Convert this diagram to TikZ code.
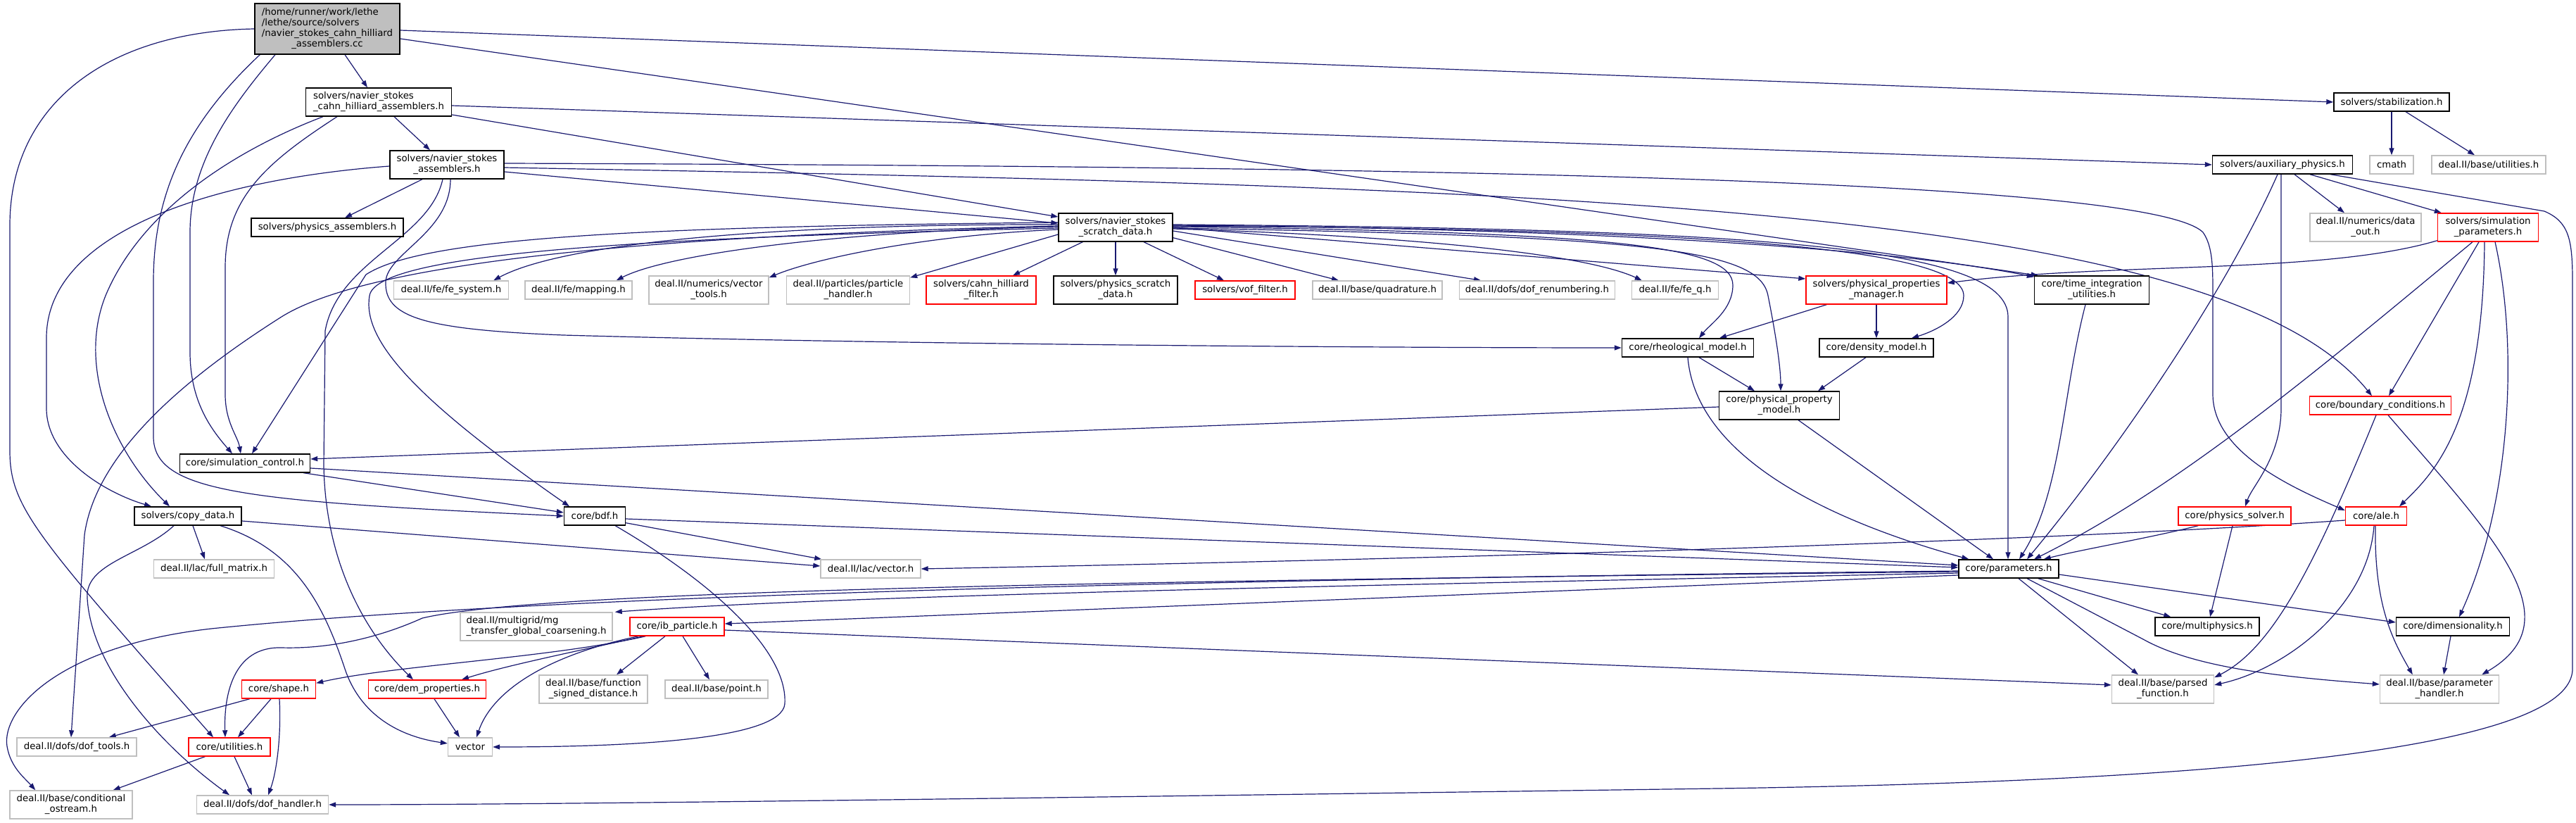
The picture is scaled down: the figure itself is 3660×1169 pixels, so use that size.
\documentclass[tikz,border=0pt]{standalone}
\usepackage{fontspec}
\setmainfont{DejaVu Sans}
\usetikzlibrary{arrows.meta,calc}
\definecolor{edgec}{HTML}{191970}
\definecolor{grayb}{HTML}{BFBFBF}
\newcommand{\fsz}{\fontsize{13.3}{15}\selectfont}
\newcommand{\mlab}[2]{\begin{tabular}{@{}l@{}}#1\\\multicolumn{1}{@{}c@{}}{#2}\end{tabular}}
\pgfdeclarelayer{bg}
\pgfsetlayers{bg,main}
\tikzset{
 box/.style={rectangle, fill=white, line width=1.4pt, inner sep=0pt, font=\fsz, text=black, align=center},
 nb/.style={box, draw=black},
 ng/.style={box, draw=grayb},
 nr/.style={box, draw=red},
 nroot/.style={box, draw=black, fill=grayb},
 sz/.style 2 args={minimum width=#1, minimum height=#2},
 lnk/.style={draw=edgec, line width=1.2pt, -{Triangle[length=10pt,width=7pt]}},
}
\begin{document}
\begin{tikzpicture}[x=1pt,y=-1pt]
\useasboundingbox (0,0) rectangle (3660,1169);
% nodes
\node[nroot,sz={206}{72}] (root) at (465,41) {\begin{tabular}{@{}l@{}}/home/runner/work/lethe\\/lethe/source/solvers\\/navier\_stokes\_cahn\_hilliard\\\multicolumn{1}{@{}c@{}}{\_assemblers.cc}\end{tabular}};
\node[nb,sz={207}{40}] (nsch) at (538,145) {\mlab{solvers/navier\_stokes}{\_cahn\_hilliard\_assemblers.h}};
\node[nb,sz={162}{40}] (nsasm) at (635,234) {\mlab{solvers/navier\_stokes}{\_assemblers.h}};
\node[nb,sz={216}{26}] (physasm) at (465,323) {solvers/physics\_assemblers.h};
\node[nb,sz={162}{40}] (scratch) at (1585,323) {\mlab{solvers/navier\_stokes}{\_scratch\_data.h}};
\node[nb,sz={164}{26}] (stab) at (3398,145) {solvers/stabilization.h};
\node[ng,sz={62}{26}] (cmath) at (3398,234) {cmath};
\node[ng,sz={162}{26}] (dutil) at (3536,234) {deal.II/base/utilities.h};
\node[nb,sz={199}{26}] (aux) at (3243,234) {solvers/auxiliary\_physics.h};
\node[ng,sz={158}{40}] (dataout) at (3361,323) {\mlab{deal.II/numerics/data}{\_out.h}};
\node[nr,sz={143}{40}] (simparam) at (3535,323) {\mlab{solvers/simulation}{\_parameters.h}};
\node[ng,sz={163}{26}] (fesys) at (641,412) {deal.II/fe/fe\_system.h};
\node[ng,sz={152}{26}] (mapping) at (822,412) {deal.II/fe/mapping.h};
\node[ng,sz={170}{40}] (vtools) at (1007,412) {\mlab{deal.II/numerics/vector}{\_tools.h}};
\node[ng,sz={175}{40}] (phandler) at (1205,412) {\mlab{deal.II/particles/particle}{\_handler.h}};
\node[nr,sz={156}{40}] (chfilter) at (1394,412) {\mlab{solvers/cahn\_hilliard}{\_filter.h}};
\node[nb,sz={176}{40}] (physscratch) at (1585,412) {\mlab{solvers/physics\_scratch}{\_data.h}};
\node[nr,sz={142}{26}] (voffilter) at (1769,412) {solvers/vof\_filter.h};
\node[ng,sz={184}{26}] (quad) at (1957,412) {deal.II/base/quadrature.h};
\node[ng,sz={221}{26}] (dofren) at (2184,412) {deal.II/dofs/dof\_renumbering.h};
\node[ng,sz={123}{26}] (feq) at (2380,412) {deal.II/fe/fe\_q.h};
\node[nr,sz={200}{40}] (ppm) at (2666,412) {\mlab{solvers/physical\_properties}{\_manager.h}};
\node[nb,sz={163}{40}] (timeint) at (2972,412) {\mlab{core/time\_integration}{\_utilities.h}};
\node[nb,sz={187}{26}] (rheo) at (2398,494) {core/rheological\_model.h};
\node[nb,sz={162}{26}] (density) at (2666,494) {core/density\_model.h};
\node[nb,sz={171}{40}] (ppmodel) at (2528,576) {\mlab{core/physical\_property}{\_model.h}};
\node[nr,sz={201}{26}] (bc) at (3382,576) {core/boundary\_conditions.h};
\node[nb,sz={185}{26}] (simctrl) at (348,658) {core/simulation\_control.h};
\node[nb,sz={152}{26}] (copydata) at (267,733) {solvers/copy\_data.h};
\node[nb,sz={87}{26}] (bdf) at (845,733) {core/bdf.h};
\node[nr,sz={160}{26}] (physsolver) at (3175,733) {core/physics\_solver.h};
\node[nr,sz={87}{26}] (ale) at (3376,733) {core/ale.h};
\node[ng,sz={171}{26}] (fullmatrix) at (304,808) {deal.II/lac/full\_matrix.h};
\node[ng,sz={142}{26}] (lacvector) at (1237,808) {deal.II/lac/vector.h};
\node[nb,sz={142}{26}] (params) at (2854,808) {core/parameters.h};
\node[ng,sz={216}{40}] (mg) at (762,890) {\mlab{deal.II/multigrid/mg}{\_transfer\_global\_coarsening.h}};
\node[nr,sz={134}{26}] (ib) at (962,890) {core/ib\_particle.h};
\node[nb,sz={148}{26}] (multiphys) at (3136,890) {core/multiphysics.h};
\node[nb,sz={161}{26}] (dimens) at (3485,890) {core/dimensionality.h};
\node[nr,sz={105}{26}] (shape) at (396,979) {core/shape.h};
\node[nr,sz={167}{26}] (dem) at (607,979) {core/dem\_properties.h};
\node[ng,sz={154}{40}] (fsd) at (843,979) {\mlab{deal.II/base/function}{\_signed\_distance.h}};
\node[ng,sz={146}{26}] (point) at (1018,979) {deal.II/base/point.h};
\node[ng,sz={145}{40}] (parsedf) at (3073,979) {\mlab{deal.II/base/parsed}{\_function.h}};
\node[ng,sz={169}{40}] (paramh) at (3466,979) {\mlab{deal.II/base/parameter}{\_handler.h}};
\node[ng,sz={170}{26}] (doftools) at (109,1061) {deal.II/dofs/dof\_tools.h};
\node[nr,sz={116}{26}] (utils) at (326,1061) {core/utilities.h};
\node[ng,sz={63}{26}] (vector) at (668,1061) {vector};
\node[ng,sz={174}{40}] (condos) at (101,1143) {\mlab{deal.II/base/conditional}{\_ostream.h}};
\node[ng,sz={187}{26}] (dofh) at (373,1143) {deal.II/dofs/dof\_handler.h};
\begin{pgfonlayer}{bg}
\fill[white] (0,0) rectangle (3660,1169);
% root
\draw[lnk] ($(root.south)+(25,0)$) -- ($(nsch.north)+(-16,0)$);
\draw[lnk] ($(root.east)+(0,2)$) -- (stab.west);
\draw[lnk] ($(root.east)+(0,14)$) -- ($(timeint.north west)+(6,0)$);
\draw[lnk] ($(root.south)+(-74,0)$) .. controls (330,150) and (270,230) .. (270,330) -- (270,500) .. controls (270,570) and (300,610) .. ($(simctrl.north)+(-18,0)$);
\draw[lnk] ($(root.south west)+(8,0)$) .. controls (260,180) and (218,280) .. (218,400) -- (218,620) .. controls (218,700) and (350,712) .. (bdf.west);
\draw[lnk] (root.west) .. controls (150,45) and (14,150) .. (14,320) -- (14,640) .. controls (14,720) and (50,760) .. ($(utils.north)+(-23,0)$);
% nsch
\draw[lnk] ($(nsch.south)+(22,0)$) -- ($(nsasm.north)+(-24,0)$);
\draw[lnk] ($(nsch.east)+(0,5)$) -- (aux.west);
\draw[lnk] ($(nsch.east)+(0,18)$) -- ($(scratch.west)+(0,-15)$);
\draw[lnk] ($(nsch.south)+(-79,0)$) .. controls (330,215) and (200,300) .. (150,420) .. controls (110,520) and (160,640) .. ($(copydata.north)+(-26,0)$);
\draw[lnk] ($(nsch.south)+(-59,0)$) .. controls (380,230) and (320,280) .. (320,380) -- (320,560) .. controls (320,600) and (338,620) .. ($(simctrl.north)+(-6,0)$);
% nsasm
\draw[lnk] ($(nsasm.south)+(-35,0)$) -- ($(physasm.north)+(25,0)$);
\draw[lnk] ($(nsasm.east)+(0,10)$) -- ($(scratch.west)+(0,-6)$);
\draw[lnk] ($(nsasm.east)+(0,-2)$) .. controls (1900,236) and (3050,250) .. (3130,330) .. controls (3144,350) and (3144,380) .. (3144,420) -- (3144,560) .. controls (3144,640) and (3250,690) .. ($(ale.west)+(0,-8)$);
\draw[lnk] ($(nsasm.east)+(0,4)$) .. controls (2200,265) and (3150,290) .. ($(bc.north)+(-12,0)$);
\draw[lnk] ($(nsasm.south)+(-6,0)$) .. controls (610,340) and (480,370) .. (462,470) -- (460,660) .. controls (462,800) and (520,900) .. ($(dem.north)+(-20,0)$);
\draw[lnk] ($(nsasm.south)+(5,0)$) .. controls (640,330) and (550,360) .. (548,400) .. controls (546,450) and (600,468) .. (800,476) .. controls (1300,490) and (2000,494) .. (rheo.west);
\draw[lnk] ($(nsasm.west)+(0,2)$) .. controls (300,255) and (66,330) .. (66,480) -- (66,580) .. controls (66,650) and (150,700) .. ($(copydata.north)+(-52,0)$);
% scratch left
\draw[lnk] ($(scratch.west)+(0,-4)$) .. controls (1100,318) and (800,345) .. ($(fesys.north east)+(-22,0)$);
\draw[lnk] ($(scratch.west)+(0,-1)$) .. controls (1200,328) and (950,360) .. ($(mapping.north east)+(-23,0)$);
\draw[lnk] ($(scratch.west)+(0,3)$) .. controls (1300,335) and (1150,370) .. ($(vtools.north east)+(0,3)$);
\draw[lnk] ($(scratch.west)+(0,10)$) -- ($(phandler.north east)+(0,3)$);
\draw[lnk] ($(scratch.west)+(0,-7)$) .. controls (900,322) and (600,338) .. (520,390) -- ($(simctrl.north)+(10,0)$);
\draw[lnk] ($(scratch.west)+(0,-2)$) .. controls (900,335) and (520,375) .. (400,450) .. controls (250,545) and (135,650) .. (120,760) -- ($(doftools.north)+(-8,0)$);
\draw[lnk] ($(scratch.west)+(0,1)$) .. controls (900,338) and (535,360) .. (525,420) .. controls (515,480) and (580,560) .. ($(bdf.north)+(-36,0)$);
% scratch bottom/right
\draw[lnk] ($(scratch.south west)+(35,0)$) -- ($(chfilter.north)+(45,0)$);
\draw[lnk] (scratch.south) -- (physscratch.north);
\draw[lnk] ($(scratch.south)+(40,0)$) -- ($(voffilter.north)+(-30,0)$);
\draw[lnk] ($(scratch.south east)+(0,-6)$) -- ($(quad.north)+(-55,0)$);
\draw[lnk] ($(scratch.east)+(0,5)$) -- ($(dofren.north)+(-80,0)$);
\draw[lnk] ($(scratch.east)+(0,2)$) .. controls (2000,335) and (2250,360) .. ($(feq.north west)+(15,0)$);
\draw[lnk] (scratch.east) -- ($(ppm.west)+(0,-16)$);
\draw[lnk] ($(scratch.east)+(0,-3)$) .. controls (2300,325) and (2700,355) .. ($(timeint.north west)+(0,2)$);
\draw[lnk] ($(scratch.east)+(0,-1)$) .. controls (2300,330) and (2462,350) .. (2462,405) .. controls (2462,440) and (2430,460) .. ($(rheo.north)+(16,0)$);
\draw[lnk] ($(scratch.east)+(0,1)$) .. controls (2350,335) and (2500,355) .. (2512,420) .. controls (2522,470) and (2530,520) .. ($(ppmodel.north)+(2,0)$);
\draw[lnk] ($(scratch.east)+(0,-2)$) .. controls (2400,325) and (2790,350) .. (2790,420) .. controls (2790,450) and (2750,470) .. ($(density.north)+(50,0)$);
\draw[lnk] ($(scratch.east)+(0,-4)$) .. controls (2500,325) and (2853,350) .. (2853,450) -- ($(params.north)+(-1,0)$);
% right top
\draw[lnk] (stab.south) -- (cmath.north);
\draw[lnk] ($(stab.south)+(20,0)$) -- ($(dutil.north)+(-20,0)$);
\draw[lnk] ($(aux.south)+(17,0)$) -- ($(dataout.north)+(-30,0)$);
\draw[lnk] ($(aux.south)+(39,0)$) -- ($(simparam.north west)+(6,0)$);
\draw[lnk] ($(aux.south)+(-7,0)$) .. controls (3160,420) and (3000,650) .. ($(params.north)+(26,0)$);
\draw[lnk] ($(aux.south)+(-2,0)$) -- (3241,580) .. controls (3241,650) and (3200,690) .. ($(physsolver.north)+(15,0)$);
\draw[lnk] ($(aux.south east)+(-32,0)$) -- (3615,300) .. controls (3650,315) and (3655,340) .. (3655,400) -- (3655,950) .. controls (3655,1080) and (3000,1112) .. (2440,1120) .. controls (1500,1133) and (800,1143) .. (dofh.east);
\draw[lnk] ($(simparam.south west)+(0,-2)$) .. controls (3300,390) and (3000,372) .. ($(ppm.east)+(0,-10)$);
\draw[lnk] ($(simparam.south)+(-22,0)$) .. controls (3300,520) and (3100,690) .. ($(params.north)+(36,0)$);
\draw[lnk] ($(simparam.south)+(-13,0)$) -- ($(bc.north)+(12,0)$);
\draw[lnk] ($(simparam.south)+(-5,0)$) .. controls (3528,600) and (3460,670) .. ($(ale.north)+(33,0)$);
\draw[lnk] ($(simparam.south)+(10,0)$) .. controls (3580,500) and (3565,720) .. ($(dimens.north)+(9,0)$);
% middle right
\draw[lnk] ($(ppm.south west)+(30,0)$) -- ($(rheo.north)+(45,0)$);
\draw[lnk] (ppm.south) -- (density.north);
\draw[lnk] ($(rheo.south)+(16,0)$) -- ($(ppmodel.north)+(-35,0)$);
\draw[lnk] ($(density.south)+(-15,0)$) -- ($(ppmodel.north)+(55,0)$);
\draw[lnk] (rheo.south) .. controls (2410,650) and (2600,740) .. ($(params.north west)+(15,0)$);
\draw[lnk] ($(ppmodel.south)+(27,0)$) -- ($(params.north)+(-22,0)$);
\draw[lnk] ($(ppmodel.west)+(0,2)$) -- ($(simctrl.east)+(0,-6)$);
\draw[lnk] ($(timeint.south)+(-9,0)$) .. controls (2930,560) and (2929,700) .. ($(params.north)+(15,0)$);
\draw[lnk] ($(bc.south)+(-6,0)$) .. controls (3290,800) and (3230,920) .. ($(parsedf.north east)+(0,4)$);
\draw[lnk] ($(bc.south)+(11,0)$) .. controls (3540,760) and (3660,880) .. ($(paramh.north east)+(-25,0)$);
\draw[lnk] ($(ale.south)+(-3,0)$) .. controls (3365,860) and (3250,950) .. ($(parsedf.east)+(0,-6)$);
\draw[lnk] ($(ale.south)+(-1,0)$) .. controls (3373,860) and (3400,910) .. ($(paramh.north west)+(47,0)$);
\draw[lnk] ($(ale.west)+(0,6)$) .. controls (2900,770) and (2000,795) .. (lacvector.east);
\draw[lnk] ($(physsolver.south west)+(29,0)$) .. controls (3050,765) and (2960,780) .. ($(params.north east)+(-22,0)$);
\draw[lnk] ($(physsolver.south)+(-3,0)$) -- ($(multiphys.north)+(4,0)$);
\draw[lnk] ($(dimens.south)+(-3,0)$) -- ($(paramh.north)+(6,0)$);
% parameters out
\draw[lnk] ($(params.south east)+(-30,0)$) -- ($(multiphys.north west)+(23,0)$);
\draw[lnk] ($(params.east)+(0,8)$) -- ($(dimens.west)+(0,-6)$);
\draw[lnk] ($(params.south)+(14,0)$) -- ($(parsedf.north)+(-35,0)$);
\draw[lnk] ($(params.south)+(26,0)$) -- (3045,908) .. controls (3120,950) and (3250,962) .. ($(paramh.west)+(0,-7)$);
\draw[lnk] ($(params.west)+(0,3)$) .. controls (1500,825) and (700,852) .. (300,893) .. controls (80,918) and (2,1010) .. (10,1060) .. controls (15,1090) and (35,1105) .. ($(condos.north west)+(37,0)$);
\draw[lnk] ($(params.west)+(0,4)$) .. controls (1500,826) and (760,840) .. (600,878) .. controls (540,905) and (470,922) .. (400,920) .. controls (330,918) and (318,990) .. ($(utils.north)+(-6,0)$);
\draw[lnk] ($(params.west)+(0,6)$) .. controls (2000,830) and (1200,845) .. ($(mg.north east)+(3,0)$);
\draw[lnk] ($(params.west)+(0,9)$) -- ($(ib.east)+(0,-4)$);
% left middle
\draw[lnk] ($(simctrl.east)+(0,7)$) -- ($(params.west)+(0,-5)$);
\draw[lnk] ($(simctrl.south east)+(-10,0)$) -- ($(bdf.west)+(0,-5)$);
\draw[lnk] ($(bdf.east)+(0,4)$) -- ($(params.west)+(0,-2)$);
\draw[lnk] ($(bdf.south east)+(0,-4)$) -- ($(lacvector.north west)+(2,0)$);
\draw[lnk] ($(bdf.south east)+(-15,0)$) .. controls (1000,820) and (1120,920) .. (1115,1000) .. controls (1110,1050) and (900,1061) .. (vector.east);
\draw[lnk] ($(copydata.east)+(0,7)$) -- ($(lacvector.west)+(0,-4)$);
\draw[lnk] ($(copydata.south)+(7,0)$) -- ($(fullmatrix.north)+(-13,0)$);
\draw[lnk] ($(copydata.south)+(46,0)$) .. controls (420,780) and (460,860) .. (490,950) .. controls (510,1010) and (560,1045) .. ($(vector.west)+(0,-5)$);
\draw[lnk] ($(copydata.south)+(-20,0)$) .. controls (200,790) and (120,800) .. (124,850) .. controls (130,950) and (230,1060) .. ($(dofh.north)+(-47,0)$);
% bottom
\draw[lnk] ($(ib.south west)+(23,0)$) .. controls (780,935) and (560,945) .. ($(shape.north east)+(0,5)$);
\draw[lnk] ($(ib.south west)+(20,0)$) .. controls (820,925) and (720,945) .. ($(dem.north)+(49,0)$);
\draw[lnk] ($(ib.south west)+(13,0)$) .. controls (780,930) and (700,980) .. ($(vector.north)+(9,0)$);
\draw[lnk] ($(ib.south)+(-17,0)$) -- ($(fsd.north)+(33,0)$);
\draw[lnk] ($(ib.south)+(8,0)$) -- ($(point.north)+(-10,0)$);
\draw[lnk] ($(ib.east)+(0,5)$) -- ($(parsedf.west)+(0,-6)$);
\draw[lnk] ($(shape.south west)+(12,0)$) -- ($(doftools.north east)+(-40,0)$);
\draw[lnk] ($(shape.south)+(-11,0)$) -- ($(utils.north)+(12,0)$);
\draw[lnk] ($(shape.south)+(1,0)$) .. controls (400,1050) and (392,1100) .. ($(dofh.north)+(8,0)$);
\draw[lnk] ($(dem.south)+(10,0)$) -- ($(vector.north)+(-15,0)$);
\draw[lnk] ($(utils.south west)+(24,0)$) -- ($(condos.north east)+(-28,0)$);
\draw[lnk] ($(utils.south)+(7,0)$) -- ($(dofh.north)+(-15,0)$);
\end{pgfonlayer}
\end{tikzpicture}
\end{document}
